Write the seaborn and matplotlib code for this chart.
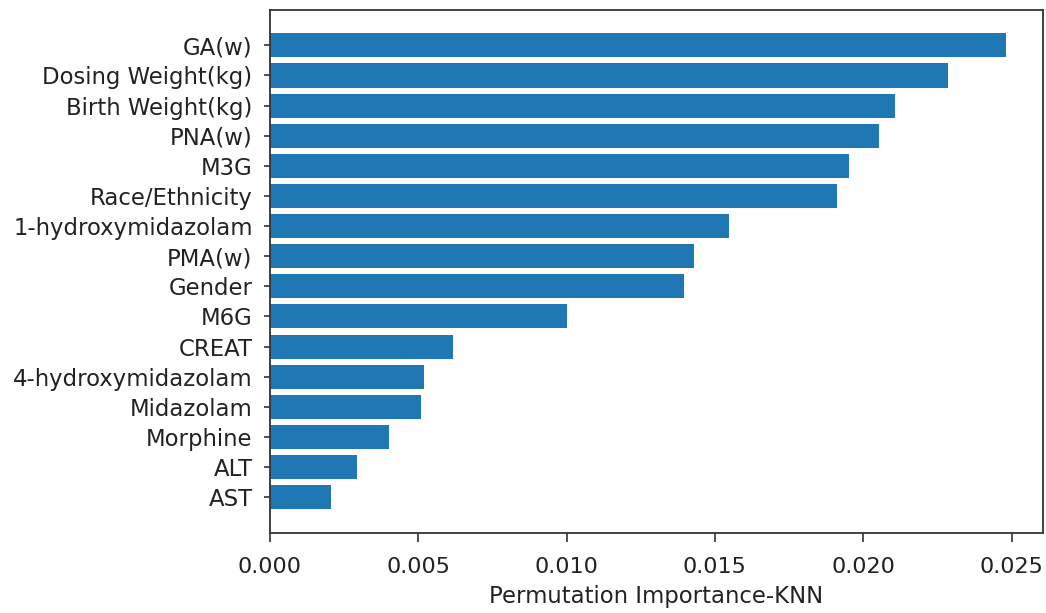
import matplotlib
matplotlib.use("Agg")
import matplotlib.pyplot as plt
import seaborn as sns
import pandas as pd

features = [
    "GA(w)", "Dosing Weight(kg)", "Birth Weight(kg)", "PNA(w)", "M3G",
    "Race/Ethnicity", "1-hydroxymidazolam", "PMA(w)", "Gender", "M6G",
    "CREAT", "4-hydroxymidazolam", "Midazolam", "Morphine", "ALT", "AST",
]
importance = [
    0.02480, 0.02286, 0.02107, 0.02052, 0.01951,
    0.01912, 0.01546, 0.01428, 0.01396, 0.01001,
    0.00619, 0.00519, 0.00511, 0.00402, 0.00293, 0.00208,
]
xticks = [0.000, 0.005, 0.010, 0.015, 0.020, 0.025]
xlabel = "Permutation Importance-KNN"

df = pd.DataFrame({"feature": features, "importance": importance})

sns.set_style("ticks")
plt.rcParams["font.family"] = ["DejaVu Sans"]

fig = plt.figure(figsize=(10.46, 6.13), dpi=100)
ax = fig.add_axes([0.2578, 0.1305, 0.7390, 0.854])

sns.barplot(data=df, x="importance", y="feature", order=features,
            color="#1f77b4", saturation=1, width=0.8, linewidth=0, ax=ax)

# matplotlib-style padding around the bars
n = len(features)
pad = 0.05 * (n - 1 + 0.8)
ax.set_ylim(n - 1 + 0.4 + pad, -0.4 - pad)
ax.set_xlim(0, max(importance) * 1.05)

ax.set_xticks(xticks)
ax.set_xticklabels([f"{t:.3f}" for t in xticks])
ax.set_ylabel("")
ax.set_xlabel(xlabel, fontsize=16.4, color="#222222", labelpad=6)

ax.tick_params(axis="x", labelsize=16, length=6.5, width=1.2, pad=10.5,
               color="#333333", labelcolor="#222222", bottom=True)
ax.tick_params(axis="y", labelsize=16.4, length=4.3, width=1.2, pad=8,
               color="#333333", labelcolor="#222222", left=True)
for side in ["top", "right", "bottom", "left"]:
    ax.spines[side].set_visible(True)
    ax.spines[side].set_linewidth(1.3)
    ax.spines[side].set_color("#333333")

fig.savefig("out.png", dpi=100)
